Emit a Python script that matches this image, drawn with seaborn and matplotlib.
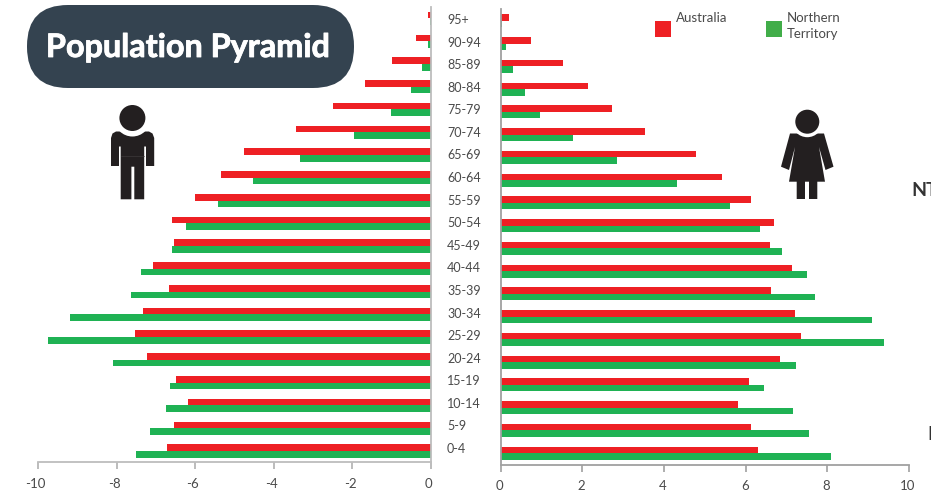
import numpy as np
import pandas as pd
import matplotlib
matplotlib.use("Agg")
import matplotlib.pyplot as plt
import matplotlib.patheffects as pe
import seaborn as sns
from matplotlib.patches import Circle, FancyBboxPatch, Polygon, Rectangle
from matplotlib.transforms import ScaledTranslation

age_groups = ["95+", "90-94", "85-89", "80-84", "75-79", "70-74", "65-69", "60-64", "55-59", "50-54",
              "45-49", "40-44", "35-39", "30-34", "25-29", "20-24", "15-19", "10-14", "5-9", "0-4"]

male_aus = [-0.08, -0.37, -0.99, -1.68, -2.49, -3.44, -4.75, -5.34, -6.02, -6.60,
            -6.54, -7.07, -6.66, -7.34, -7.54, -7.24, -6.50, -6.18, -6.55, -6.72]
male_nt = [-0.03, -0.07, -0.24, -0.50, -1.02, -1.95, -3.33, -4.53, -5.43, -6.24,
           -6.59, -7.39, -7.64, -9.20, -9.75, -8.11, -6.65, -6.76, -7.16, -7.50]
female_aus = [0.20, 0.73, 1.53, 2.14, 2.73, 3.54, 4.78, 5.43, 6.12, 6.69,
              6.60, 7.13, 6.63, 7.22, 7.35, 6.83, 6.07, 5.81, 6.13, 6.29]
female_nt = [0.03, 0.12, 0.30, 0.59, 0.96, 1.77, 2.85, 4.33, 5.62, 6.34,
             6.88, 7.51, 7.71, 9.09, 9.39, 7.23, 6.45, 7.15, 7.55, 8.08]

RED = "#EE2024"
GREEN = "#1FB254"
TEXT = "#4a4a4a"
W, H = 931, 493

sns.set_theme(style="white")
plt.rcParams["font.family"] = ["Lato", "DejaVu Sans"]
plt.rcParams["axes.unicode_minus"] = False


def long_form(aus, nt):
    return pd.DataFrame({
        "age": age_groups * 2,
        "pct": aus + nt,
        "region": ["Australia"] * len(aus) + ["Northern Territory"] * len(nt),
    })


def px_axes(fig, x0, x1, y0, y1):
    return fig.add_axes([x0 / W, 1 - y1 / H, (x1 - x0) / W, (y1 - y0) / H])


def pyramid_side(ax, aus, nt, xlim, ticks, spine_side, spine_col, tick_col, label_shift):
    sns.barplot(data=long_form(aus, nt), x="pct", y="age", hue="region", order=age_groups,
                hue_order=["Australia", "Northern Territory"], palette=[RED, GREEN],
                orient="h", width=0.58, legend=False, saturation=1, linewidth=0, ax=ax)
    ax.set_xlim(*xlim)
    ax.set_ylim(len(age_groups) - 0.5, -0.5)
    ax.set_xlabel("")
    ax.set_ylabel("")
    ax.set_xticks(list(ticks))
    ax.tick_params(axis="x", length=5, width=1.2, color=tick_col, labelcolor=TEXT, labelsize=9.5, pad=6, bottom=True)
    ax.tick_params(axis="y", left=False, labelleft=False, length=0)
    for side in ax.spines:
        ax.spines[side].set_visible(False)
    for side in ["bottom", spine_side]:
        ax.spines[side].set_visible(True)
        ax.spines[side].set_color(spine_col)
        ax.spines[side].set_linewidth(1.3)
    # labels sit a little left of their ticks in the original
    shift = ScaledTranslation(label_shift / 100, 0, fig.dpi_scale_trans)
    for lab in ax.get_xticklabels():
        lab.set_transform(lab.get_transform() + shift)


fig = plt.figure(figsize=(W / 100, H / 100), dpi=100, facecolor="white")

ax_l = px_axes(fig, 38.3, 431, 7, 462.3)
pyramid_side(ax_l, male_aus, male_nt, (-10, 0), range(-10, 1, 2), "right", "#bdbdbd", "#b0b0b0", -2.5)

ax_r = px_axes(fig, 500.7, 909, 9.5, 464.5)
pyramid_side(ax_r, female_aus, female_nt, (0, 10), range(0, 11, 2), "left", "#a0a0a0", "#a0a0a0", -1)

# age labels have a slightly tighter pitch than the bars
ax_m = px_axes(fig, 431, 447, 7.7, 459.3)
ax_m.patch.set_alpha(0)
for side in ax_m.spines:
    ax_m.spines[side].set_visible(False)
ax_m.set_xticks([])
ax_m.set_yticks(range(len(age_groups)), age_groups)
ax_m.set_ylim(len(age_groups) - 0.5, -0.5)
ax_m.yaxis.tick_right()
ax_m.tick_params(axis="y", length=0, pad=0, labelsize=9, labelcolor=TEXT)

# overlay in pixel coords for title box, legend and icons
ov = fig.add_axes([0, 0, 1, 1], zorder=5)
ov.set_xlim(0, W)
ov.set_ylim(H, 0)
ov.axis("off")
ov.patch.set_alpha(0)

ov.add_patch(FancyBboxPatch((27 + 28, 5 + 28), 327 - 56, 83 - 56, boxstyle="round,pad=28,rounding_size=41",
                            fc="#344350", ec="none"))
title = ov.text(188, 47.5, "Population Pyramid", color="white", fontsize=23.3, fontweight="bold",
                ha="center", va="center")
title.set_path_effects([pe.withStroke(linewidth=0.6, foreground="white")])

ov.add_patch(Rectangle((655, 21), 16, 16, fc=RED, ec="none"))
ov.add_patch(Rectangle((766, 21), 16, 16, fc="#41AD49", ec="none"))
ov.text(676, 18.5, "Australia", fontsize=9.5, color=TEXT, va="center")
ov.text(787, 18.5, "Northern", fontsize=9.5, color=TEXT, va="center")
ov.text(787, 34.5, "Territory", fontsize=9.5, color=TEXT, va="center")

# text cut off by the right edge in the original
ov.text(911.5, 190.5, "NT", fontsize=14, fontweight="bold", color="#333333", va="center", clip_on=False)
ov.text(927.5, 435, "N", fontsize=14, fontweight="bold", color="#333333", va="center", clip_on=False)

ink = "#231F20"
# man
ov.add_patch(Polygon([(116, 131.5), (149, 131.5), (152.5, 133.5), (154.2, 138), (154.2, 166), (146, 166), (146, 146.5),
                      (144.2, 146.5), (144.2, 199.3), (134.3, 199.3), (134.3, 166.7), (131.4, 166.7), (131.4, 199.3),
                      (120.7, 199.3), (120.7, 146.5), (119, 146.5), (119, 166), (111, 166), (111, 138), (112.5, 133.5)],
                     fc=ink, ec="none"))
ov.add_patch(Circle((132.4, 118.5), 18, fc="white", ec="none"))
ov.add_patch(Circle((132.4, 118), 13, fc=ink, ec="none"))
ov.plot([120.7, 144.2], [156, 156], color="#3d3a3b", lw=0.5)
# woman
ov.add_patch(Polygon([(790, 133.5), (824, 133.5), (833.5, 166.7), (825.5, 170), (819, 147), (825, 181.7),
                      (817.3, 181.7), (817.3, 199), (809, 199), (809, 181.7), (805, 181.7), (805, 199),
                      (796.7, 199), (796.7, 181.7), (789, 181.7), (795, 147), (789, 170), (781, 166.7)],
                     fc=ink, ec="none"))
ov.add_patch(Circle((807.3, 121.7), 15.5, fc="white", ec="none"))
ov.add_patch(Circle((807.3, 121.7), 12, fc=ink, ec="none"))

fig.savefig("out.png", dpi=100)
